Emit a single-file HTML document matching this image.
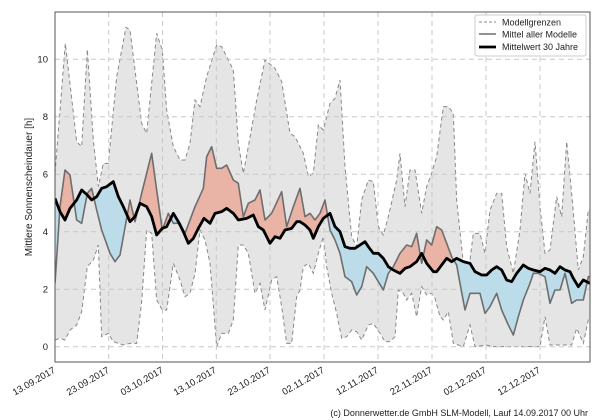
<!DOCTYPE html>
<html><head><meta charset="utf-8"><style>
html,body{margin:0;padding:0;background:#fff;}
svg{display:block;font-family:"Liberation Sans","DejaVu Sans",sans-serif;}
</style></head><body>
<svg width="600" height="420" viewBox="0 0 600 420" xmlns="http://www.w3.org/2000/svg">
<defs>
<clipPath id="plot"><rect x="55" y="12" width="535" height="350"/></clipPath>
<clipPath id="above"><polygon points="165,595 180,635 195,660 210,625 230,600 245,570 262,585 275,600 290,590 305,565 320,560 340,545 355,590 370,620 390,665 405,650 420,610 440,620 455,650 470,705 487,685 500,680 520,640 535,665 550,695 565,730 580,715 595,685 612,655 630,670 645,640 665,635 680,625 700,640 715,660 740,655 760,645 775,680 790,690 810,730 825,710 840,715 855,690 875,685 890,665 900,665 915,675 930,690 940,715 955,680 970,655 990,640 1005,680 1020,695 1035,740 1050,745 1065,745 1080,735 1095,725 1105,740 1120,760 1135,760 1150,775 1165,800 1180,810 1200,820 1215,805 1230,800 1250,785 1265,760 1280,790 1300,815 1310,815 1325,795 1340,775 1355,785 1370,775 1390,785 1410,790 1425,815 1445,825 1460,825 1475,810 1490,800 1505,810 1520,840 1535,845 1550,820 1570,795 1585,805 1600,810 1620,815 1635,805 1650,810 1665,820 1680,800 1695,810 1710,815 1720,835 1735,860 1750,840 1770,850 1770,0 165,0"/></clipPath>
<clipPath id="below"><polygon points="165,595 180,635 195,660 210,625 230,600 245,570 262,585 275,600 290,590 305,565 320,560 340,545 355,590 370,620 390,665 405,650 420,610 440,620 455,650 470,705 487,685 500,680 520,640 535,665 550,695 565,730 580,715 595,685 612,655 630,670 645,640 665,635 680,625 700,640 715,660 740,655 760,645 775,680 790,690 810,730 825,710 840,715 855,690 875,685 890,665 900,665 915,675 930,690 940,715 955,680 970,655 990,640 1005,680 1020,695 1035,740 1050,745 1065,745 1080,735 1095,725 1105,740 1120,760 1135,760 1150,775 1165,800 1180,810 1200,820 1215,805 1230,800 1250,785 1265,760 1280,790 1300,815 1310,815 1325,795 1340,775 1355,785 1370,775 1390,785 1410,790 1425,815 1445,825 1460,825 1475,810 1490,800 1505,810 1520,840 1535,845 1550,820 1570,795 1585,805 1600,810 1620,815 1635,805 1650,810 1665,820 1680,800 1695,810 1710,815 1720,835 1735,860 1750,840 1770,850 1770,1300 165,1300"/></clipPath>
</defs>

<g clip-path="url(#plot)">
<g transform="scale(0.33333)">
<polygon fill="#e5e5e5" stroke="#888" stroke-width="1" stroke-dasharray="4,3" vector-effect="non-scaling-stroke"
points="165,520 196,130 230,425 245,440 262,148 280,420 295,560 310,490 325,490 350,230 378,82 390,90 425,370 440,400 470,100 487,150 500,330 520,440 540,480 555,480 570,430 585,300 600,320 620,230 650,135 665,140 685,180 700,210 715,430 730,520 745,440 770,300 795,180 825,205 845,245 870,400 885,410 900,440 910,460 925,530 940,520 955,375 970,390 990,310 1005,295 1020,240 1035,500 1055,710 1070,740 1085,600 1105,540 1120,545 1135,680 1150,705 1165,650 1190,540 1200,460 1215,620 1230,510 1245,510 1265,640 1280,560 1295,520 1310,470 1330,320 1345,320 1360,340 1370,600 1390,790 1405,820 1420,700 1440,700 1455,760 1470,630 1490,580 1505,580 1520,740 1540,820 1560,690 1575,520 1590,580 1605,425 1620,620 1635,760 1650,750 1670,590 1685,650 1700,425 1715,580 1735,810 1750,770 1765,630 1770,630
1770,960 1765,960 1750,1030 1730,985 1715,1035 1650,1035 1635,950 1620,1040 1480,1040 1460,1035 1425,1040 1410,975 1390,1040 1360,1030 1345,935 1330,960 1320,950 1305,895 1295,880 1280,885 1265,860 1250,950 1235,880 1220,900 1210,880 1195,870 1185,1010 1170,1025 1155,1025 1140,1000 1120,970 1105,975 1085,1020 1070,995 1055,990 1040,1010 1025,1015 1010,940 995,880 980,800 970,710 955,760 940,820 925,790 910,800 900,870 890,890 875,1030 860,1030 845,920 830,830 815,840 795,930 780,850 765,880 745,760 730,735 715,735 700,960 685,1000 665,1000 650,1040 630,790 615,720 600,690 585,820 570,880 555,890 540,840 520,790 500,930 487,930 470,900 455,700 440,690 425,905 410,1030 390,1030 370,1035 340,1025 325,1000 305,1010 295,735 280,780 262,800 245,935 230,975 210,990 195,1020 180,1015 165,1020"/>
</g>
</g>

<g stroke="#c8c8c8" stroke-width="1" stroke-dasharray="5,4">
<line x1="55" y1="346.7" x2="590" y2="346.7"/>
<line x1="55" y1="289.2" x2="590" y2="289.2"/>
<line x1="55" y1="231.7" x2="590" y2="231.7"/>
<line x1="55" y1="174.3" x2="590" y2="174.3"/>
<line x1="55" y1="116.8" x2="590" y2="116.8"/>
<line x1="55" y1="59.3" x2="590" y2="59.3"/>
<line x1="108.7" y1="12" x2="108.7" y2="362"/>
<line x1="162.5" y1="12" x2="162.5" y2="362"/>
<line x1="216.3" y1="12" x2="216.3" y2="362"/>
<line x1="270" y1="12" x2="270" y2="362"/>
<line x1="324" y1="12" x2="324" y2="362"/>
<line x1="378" y1="12" x2="378" y2="362"/>
<line x1="432" y1="12" x2="432" y2="362"/>
<line x1="486" y1="12" x2="486" y2="362"/>
<line x1="540" y1="12" x2="540" y2="362"/>
</g>

<g clip-path="url(#plot)">
<g transform="scale(0.33333)">
<g clip-path="url(#above)">
<polygon fill="#e9b3a6" points="165,850 180,620 195,510 210,525 230,660 245,670 262,580 275,565 290,630 305,690 330,760 345,785 360,765 390,600 405,665 425,580 440,520 455,460 470,570 487,690 505,640 520,670 540,670 555,700 585,620 610,565 620,470 635,440 650,505 665,505 680,495 700,540 715,550 730,650 745,610 765,600 780,570 795,660 815,640 845,575 860,680 880,620 900,565 915,650 930,640 945,660 960,640 975,600 990,690 1005,720 1020,760 1035,830 1055,845 1070,885 1085,860 1100,800 1120,820 1135,845 1150,870 1165,820 1180,800 1200,760 1220,735 1235,740 1250,700 1265,790 1280,720 1295,735 1310,680 1325,690 1340,730 1355,770 1370,795 1380,850 1395,930 1410,880 1440,880 1455,940 1470,920 1490,880 1505,930 1525,975 1540,1005 1555,950 1570,900 1590,850 1600,820 1615,820 1635,830 1650,910 1665,870 1680,870 1695,820 1715,910 1730,900 1750,900 1765,830 1770,830 1770,1300 165,1300"/>
</g>
<g clip-path="url(#below)">
<polygon fill="#bcdcea" points="165,850 180,620 195,510 210,525 230,660 245,670 262,580 275,565 290,630 305,690 330,760 345,785 360,765 390,600 405,665 425,580 440,520 455,460 470,570 487,690 505,640 520,670 540,670 555,700 585,620 610,565 620,470 635,440 650,505 665,505 680,495 700,540 715,550 730,650 745,610 765,600 780,570 795,660 815,640 845,575 860,680 880,620 900,565 915,650 930,640 945,660 960,640 975,600 990,690 1005,720 1020,760 1035,830 1055,845 1070,885 1085,860 1100,800 1120,820 1135,845 1150,870 1165,820 1180,800 1200,760 1220,735 1235,740 1250,700 1265,790 1280,720 1295,735 1310,680 1325,690 1340,730 1355,770 1370,795 1380,850 1395,930 1410,880 1440,880 1455,940 1470,920 1490,880 1505,930 1525,975 1540,1005 1555,950 1570,900 1590,850 1600,820 1615,820 1635,830 1650,910 1665,870 1680,870 1695,820 1715,910 1730,900 1750,900 1765,830 1770,830 1770,0 165,0"/>
</g>
<polyline fill="none" stroke="#6e6e6e" stroke-width="1.6" stroke-linejoin="round" vector-effect="non-scaling-stroke" points="165,850 180,620 195,510 210,525 230,660 245,670 262,580 275,565 290,630 305,690 330,760 345,785 360,765 390,600 405,665 425,580 440,520 455,460 470,570 487,690 505,640 520,670 540,670 555,700 585,620 610,565 620,470 635,440 650,505 665,505 680,495 700,540 715,550 730,650 745,610 765,600 780,570 795,660 815,640 845,575 860,680 880,620 900,565 915,650 930,640 945,660 960,640 975,600 990,690 1005,720 1020,760 1035,830 1055,845 1070,885 1085,860 1100,800 1120,820 1135,845 1150,870 1165,820 1180,800 1200,760 1220,735 1235,740 1250,700 1265,790 1280,720 1295,735 1310,680 1325,690 1340,730 1355,770 1370,795 1380,850 1395,930 1410,880 1440,880 1455,940 1470,920 1490,880 1505,930 1525,975 1540,1005 1555,950 1570,900 1590,850 1600,820 1615,820 1635,830 1650,910 1665,870 1680,870 1695,820 1715,910 1730,900 1750,900 1765,830 1770,830"/>
<polyline fill="none" stroke="#000" stroke-width="2.8" stroke-linejoin="round" vector-effect="non-scaling-stroke" points="165,595 180,635 195,660 210,625 230,600 245,570 262,585 275,600 290,590 305,565 320,560 340,545 355,590 370,620 390,665 405,650 420,610 440,620 455,650 470,705 487,685 500,680 520,640 535,665 550,695 565,730 580,715 595,685 612,655 630,670 645,640 665,635 680,625 700,640 715,660 740,655 760,645 775,680 790,690 810,730 825,710 840,715 855,690 875,685 890,665 900,665 915,675 930,690 940,715 955,680 970,655 990,640 1005,680 1020,695 1035,740 1050,745 1065,745 1080,735 1095,725 1105,740 1120,760 1135,760 1150,775 1165,800 1180,810 1200,820 1215,805 1230,800 1250,785 1265,760 1280,790 1300,815 1310,815 1325,795 1340,775 1355,785 1370,775 1390,785 1410,790 1425,815 1445,825 1460,825 1475,810 1490,800 1505,810 1520,840 1535,845 1550,820 1570,795 1585,805 1600,810 1620,815 1635,805 1650,810 1665,820 1680,800 1695,810 1710,815 1720,835 1735,860 1750,840 1770,850"/>
</g>
</g>

<rect x="55" y="12" width="535" height="350" fill="none" stroke="#555" stroke-width="1"/>

<g font-size="9.5" fill="#222" text-anchor="end">
<text x="48" y="350">0</text>
<text x="48" y="292.5">2</text>
<text x="48" y="235">4</text>
<text x="48" y="177.5">6</text>
<text x="48" y="120">8</text>
<text x="48" y="62.5">10</text>
</g>
<text transform="translate(32,187) rotate(-90)" font-size="10" fill="#222" text-anchor="middle">Mittlere Sonnenscheindauer [h]</text>

<g font-size="9.5" fill="#222" text-anchor="end">
<text transform="translate(56,372) rotate(-30)">13.09.2017</text>
<text transform="translate(110,372) rotate(-30)">23.09.2017</text>
<text transform="translate(164,372) rotate(-30)">03.10.2017</text>
<text transform="translate(217,372) rotate(-30)">13.10.2017</text>
<text transform="translate(271,372) rotate(-30)">23.10.2017</text>
<text transform="translate(325,372) rotate(-30)">02.11.2017</text>
<text transform="translate(379,372) rotate(-30)">12.11.2017</text>
<text transform="translate(433,372) rotate(-30)">22.11.2017</text>
<text transform="translate(487,372) rotate(-30)">02.12.2017</text>
<text transform="translate(541,372) rotate(-30)">12.12.2017</text>
</g>

<rect x="475" y="15" width="111" height="41" fill="#fff" fill-opacity="0.85" stroke="#ccc" rx="2"/>
<line x1="479" y1="22" x2="496" y2="22" stroke="#888" stroke-dasharray="3,2"/>
<line x1="479" y1="34" x2="496" y2="34" stroke="#6e6e6e" stroke-width="1.6"/>
<line x1="479" y1="47" x2="496" y2="47" stroke="#000" stroke-width="2.8"/>
<g font-size="9" fill="#222">
<text x="502" y="25.5">Modellgrenzen</text>
<text x="502" y="37.5">Mittel aller Modelle</text>
<text x="502" y="50">Mittelwert 30 Jahre</text>
</g>

<text x="588" y="416" font-size="9" fill="#222" text-anchor="end">(c) Donnerwetter.de GmbH SLM-Modell, Lauf 14.09.2017 00 Uhr</text>
</svg>
</body></html>
